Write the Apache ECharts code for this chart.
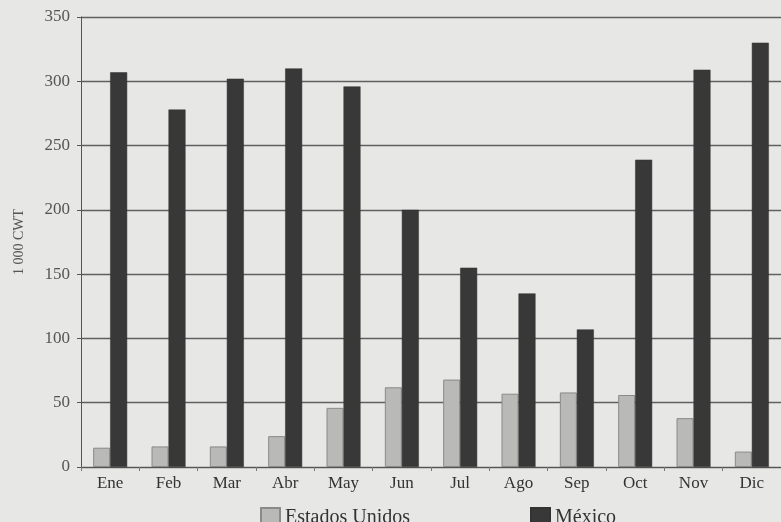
<!DOCTYPE html>
<html><head><meta charset="utf-8">
<script src="https://cdn.jsdelivr.net/npm/echarts@6/dist/echarts.min.js"></script>
<style>html,body{margin:0;padding:0;background:#e7e7e5;}#c{width:781px;height:522px;}</style>
</head><body><div id="c"></div>
<script>
const categories = ['Ene','Feb','Mar','Abr','May','Jun','Jul','Ago','Sep','Oct','Nov','Dic'];
const estadosUnidos = [15, 16, 16, 24, 46, 62, 68, 57, 58, 56, 38, 12];
const mexico = [307, 278, 302, 310, 296, 200, 155, 135, 107, 239, 309, 330];
const yTicks = [0, 50, 100, 150, 200, 250, 300, 350];
const yTitle = '1 000 CWT';

const font = 'Liberation Serif';
const chart = echarts.init(document.getElementById('c'), null, {renderer:'canvas'});
chart.setOption({
  backgroundColor: '#e7e7e5',
  animation: false,
  grid: {left: 81, right: 0, top: 17, bottom: 55, containLabel: false},
  legend: [
    {data: ['Estados Unidos'], icon: 'rect', left: 255, top: 502, itemWidth: 19, itemHeight: 19, itemGap: 4,
     textStyle: {fontFamily: font, fontSize: 20, color: '#333', padding: [6, 0, 0, 0]}},
    {data: ['México'], icon: 'rect', left: 525, top: 502, itemWidth: 19, itemHeight: 19,
     textStyle: {fontFamily: font, fontSize: 20, color: '#333', padding: [6, 0, 0, 0]}}
  ],
  xAxis: {
    type: 'category', data: categories,
    axisLine: {lineStyle: {color: '#555', width: 1}},
    axisTick: {show: true, length: 4, lineStyle: {color: '#777'}},
    axisLabel: {fontFamily: font, fontSize: 17, color: '#333', margin: 8}
  },
  yAxis: {
    type: 'value', min: 0, max: 350, interval: 50,
    name: yTitle, nameLocation: 'middle', nameGap: 55, nameRotate: 90,
    nameTextStyle: {fontFamily: font, fontSize: 14, color: '#555'},
    axisLine: {show: true, lineStyle: {color: '#555'}},
    axisTick: {show: true, length: 4, lineStyle: {color: '#555'}},
    axisLabel: {fontFamily: font, fontSize: 17, color: '#555', margin: 11,
      formatter: v => yTicks.includes(v) ? String(v) : ''},
    splitLine: {show: true, lineStyle: {color: '#606060', width: 1.3}}
  },
  series: [
    {name: 'Estados Unidos', type: 'bar', data: estadosUnidos, barWidth: 17, barGap: '0%',
     itemStyle: {color: '#b9b9b7', borderColor: '#8a8a88', borderWidth: 1}},
    {name: 'México', type: 'bar', data: mexico, barWidth: 17, barGap: '0%',
     itemStyle: {color: '#383838', borderColor: '#333', borderWidth: 0.5}}
  ]
});
</script></body></html>
